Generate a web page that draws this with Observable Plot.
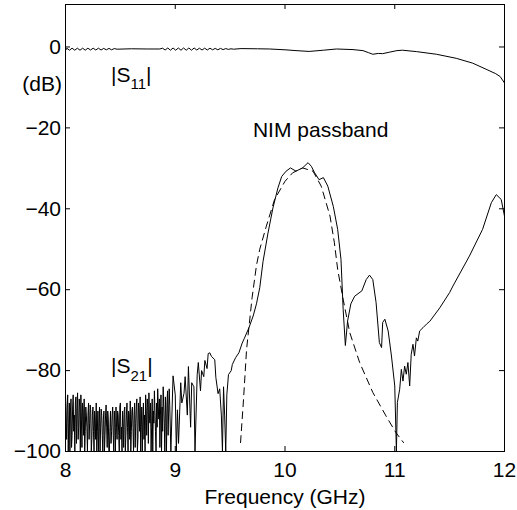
<!DOCTYPE html>
<html><head><meta charset="utf-8">
<script src="https://cdn.jsdelivr.net/npm/d3@7"></script>
<script src="https://cdn.jsdelivr.net/npm/@observablehq/plot@0.6"></script>
<style>body{margin:0;background:#fff;}</style>
</head><body><div id="chart"></div>
<script>
// Tick values
const xTicks = [8, 9, 10, 11, 12];
const yTicks = [-100, -80, -60, -40, -20, 0];
const xInnerTicks = [9, 10, 11];
const yInnerTicks = [-80, -60, -40, -20, 0];

// |S11| measured (GHz, dB)
const s11 = [
  [8.000,-0.9],[8.012,-0.3],[8.036,-0.8],[8.060,-0.3],[8.084,-0.8],[8.108,-0.3],[8.132,-0.8],[8.156,-0.3],
  [8.180,-0.8],[8.204,-0.3],[8.228,-0.75],[8.252,-0.3],[8.276,-0.75],[8.300,-0.3],[8.324,-0.75],[8.348,-0.35],
  [8.372,-0.7],[8.396,-0.35],[8.420,-0.7],[8.444,-0.4],[8.47,-0.55],[8.6,-0.45],[8.75,-0.5],[8.86,-0.5],
  [8.884,-0.3],[8.908,-0.75],[8.932,-0.25],[8.956,-0.8],[8.980,-0.25],[9.004,-0.8],[9.028,-0.25],[9.052,-0.8],
  [9.076,-0.25],[9.100,-0.8],[9.124,-0.25],[9.148,-0.8],[9.172,-0.25],[9.196,-0.75],[9.220,-0.3],[9.244,-0.75],
  [9.268,-0.3],[9.292,-0.75],[9.316,-0.3],[9.340,-0.7],[9.364,-0.35],[9.388,-0.7],[9.412,-0.35],[9.436,-0.65],
  [9.460,-0.4],[9.484,-0.6],[9.508,-0.45],[9.532,-0.55],[9.6,-0.4],[9.75,-0.45],[9.86,-0.5],[10.0,-0.7],
  [10.1,-0.9],[10.22,-1.1],[10.35,-0.8],[10.47,-0.5],[10.62,-0.65],[10.71,-0.9],[10.76,-1.4],[10.8,-1.8],
  [10.85,-1.6],[10.89,-1.65],[10.95,-1.3],[11.02,-0.9],[11.07,-0.8],[11.2,-1.15],[11.38,-1.8],[11.56,-2.8],
  [11.71,-4.0],[11.84,-5.6],[11.92,-6.6],[11.96,-7.3],[12.0,-8.9]
];

// |S21| measured, noise floor region (GHz, dB)
const s21Noise = [
  [8.00,-86],[8.01,-97],[8.02,-86],[8.03,-93],[8.04,-100],[8.05,-87],[8.06,-96],[8.07,-86],[8.08,-91],[8.09,-88],
  [8.10,-98],[8.11,-85.5],[8.12,-94],[8.13,-89],[8.14,-86],[8.15,-99],[8.16,-90],[8.17,-87],[8.18,-95],[8.19,-91],
  [8.20,-100],[8.21,-88],[8.22,-93],[8.23,-90],[8.24,-97],[8.25,-89],[8.26,-100],[8.27,-92],[8.28,-88],[8.29,-95],
  [8.30,-100],[8.31,-89],[8.32,-94],[8.33,-91],[8.34,-100],[8.35,-90],[8.36,-96],[8.37,-88.5],[8.38,-99],[8.39,-92],
  [8.40,-100],[8.41,-90],[8.42,-95],[8.43,-89],[8.44,-100],[8.45,-93],[8.46,-89],[8.47,-97],[8.48,-91],[8.49,-100],
  [8.50,-88],[8.51,-94],[8.52,-90],[8.53,-99],[8.54,-89],[8.55,-96],[8.56,-88],[8.57,-100],[8.58,-91],[8.59,-87.5],
  [8.60,-95],[8.61,-89],[8.62,-100],[8.63,-88],[8.64,-93],[8.65,-87],[8.66,-97],[8.67,-90],[8.68,-86.5],[8.69,-94],
  [8.70,-100],[8.71,-88],[8.72,-91],[8.73,-86],[8.74,-96],[8.75,-89],[8.76,-85.5],[8.77,-93],[8.78,-100],[8.79,-87],
  [8.80,-90],[8.81,-85],[8.82,-95],[8.83,-88],[8.84,-84.5],[8.85,-92],[8.86,-99],[8.87,-86],[8.88,-89],[8.89,-84],
  [8.90,-93],[8.91,-86.5],[8.92,-100],[8.93,-85],[8.94,-90],[8.95,-88.7]
];
// |S21| noise floor, in-between samples (GHz, dB)
const s21NoiseMid = [
  [8.005,-91],[8.015,-89],[8.025,-100],[8.035,-88],[8.045,-90],[8.055,-99],[8.065,-89],[8.075,-95],[8.085,-100],[8.095,-86.5],
  [8.105,-90],[8.115,-97],[8.125,-87],[8.135,-100],[8.145,-92],[8.155,-88],[8.165,-96],[8.175,-100],[8.185,-89],[8.195,-94],
  [8.205,-91],[8.215,-97],[8.225,-88.5],[8.235,-100],[8.245,-91],[8.255,-95],[8.265,-90],[8.275,-97],[8.285,-100],[8.295,-90],
  [8.305,-93],[8.315,-100],[8.325,-89.5],[8.335,-96],[8.345,-92],[8.355,-100],[8.365,-91],[8.375,-94],[8.385,-90],[8.395,-100],
  [8.405,-94],[8.415,-98],[8.425,-91],[8.435,-96],[8.445,-90],[8.455,-100],[8.465,-94],[8.475,-90],[8.485,-96],[8.495,-89],
  [8.505,-97],[8.515,-100],[8.525,-93],[8.535,-90],[8.545,-100],[8.555,-91],[8.565,-94],[8.575,-90],[8.585,-97],[8.595,-100],
  [8.605,-90],[8.615,-94],[8.625,-91],[8.635,-99],[8.645,-89],[8.655,-100],[8.665,-88],[8.675,-95],[8.685,-100],[8.695,-89],
  [8.705,-92],[8.715,-97],[8.725,-100],[8.735,-90],[8.745,-87],[8.755,-98],[8.765,-92],[8.775,-88],[8.785,-94],[8.795,-100],
  [8.805,-93],[8.815,-90],[8.825,-100],[8.835,-94],[8.845,-89],[8.855,-87],[8.865,-91],[8.875,-100],[8.885,-95],[8.895,-89],
  [8.905,-100],[8.915,-91],[8.925,-88],[8.935,-96],[8.945,-84.5]
];

// |S21| measured, remainder (GHz, dB)
const s21Main = [
  [8.96,-100],[8.98,-81.3],[9.0,-86],[9.01,-100],[9.02,-89.7],[9.03,-98],[9.05,-83],[9.06,-88],[9.08,-85.6],[9.09,-81.5],
  [9.11,-91],[9.12,-79],[9.14,-94],[9.15,-83],[9.17,-84],[9.18,-100],[9.20,-81],[9.21,-78],[9.23,-85],[9.24,-80],
  [9.26,-81.5],[9.27,-77.5],[9.29,-79.5],[9.30,-75.8],[9.315,-75.6],[9.33,-76.5],[9.36,-77.3],[9.37,-81.7],[9.39,-85.7],[9.405,-84.5],
  [9.42,-91],[9.43,-100],[9.44,-84],[9.45,-91],[9.46,-100],[9.47,-86],[9.485,-81],[9.51,-80],[9.52,-78.5],[9.55,-76.8],
  [9.58,-75.6],[9.61,-73.2],[9.63,-72],[9.67,-69.5],[9.71,-66.5],[9.74,-63.5],[9.77,-59.5],[9.80,-53],[9.845,-46],[9.89,-39.8],
  [9.936,-34.8],[9.97,-32],[10.01,-30.7],[10.05,-29.9],[10.10,-30.7],[10.16,-29.9],[10.21,-28.6],[10.24,-29.5],[10.27,-31.1],[10.31,-32.8],
  [10.35,-32.3],[10.39,-34.4],[10.44,-39.4],[10.48,-45.1],[10.51,-52.5],[10.53,-64.9],[10.55,-73.8],[10.57,-67.8],[10.60,-63.5],[10.635,-61.6],
  [10.70,-60.3],[10.74,-57.5],[10.77,-56.4],[10.80,-57.5],[10.83,-63.2],[10.86,-73.1],[10.88,-74.3],[10.89,-68.1],[10.91,-67.3],[10.94,-70.2],
  [10.97,-76.4],[11.0,-83.8],[11.015,-100],[11.024,-87.9],[11.045,-84.6],[11.06,-79.7],[11.075,-82.6],[11.09,-78.9],[11.105,-80.9],[11.12,-78],
  [11.136,-83.8],[11.15,-76],[11.166,-73.5],[11.18,-76.4],[11.197,-71.9],[11.21,-72.7],[11.227,-70.2],[11.257,-69.4],[11.29,-68.5],[11.32,-67.8],
  [11.41,-64.5],[11.5,-60.7],[11.53,-59.1],[11.68,-51.7],[11.80,-45.1],[11.88,-38.5],[11.925,-36.5],[11.97,-37.7],[12.0,-41.8]
];

// |S21| simulated (dashed)
const s21Sim = [
  [9.595,-97.8],[9.62,-88],[9.65,-74.7],[9.70,-62],[9.74,-54],[9.77,-50],[9.83,-44.3],[9.905,-37.7],[10.0,-33.2],[10.07,-31.1],
  [10.16,-29.9],[10.255,-30.7],[10.33,-34.4],[10.41,-41.8],[10.45,-48.4],[10.48,-55],[10.53,-62.4],[10.59,-70.6],[10.68,-78],[10.80,-85.4],
  [10.92,-91.2],[11.01,-95.3],[11.08,-97.8]
];

const xLabel = "Frequency (GHz)";
const yLabel = "(dB)";

const s21 = d3.sort(s21Noise.concat(s21NoiseMid), d => d[0]).concat(s21Main);
const W = 517, H = 510, mL = 65, mR = 13, mT = 4, mB = 59;
const frameW = W - mL - mR, frameH = H - mT - mB, tickLen = 5;
const font = "'Liberation Sans', Arial, Helvetica, sans-serif";
const fx = d => d[0], fy = d => d[1];

const chart = Plot.plot({
  width: W, height: H,
  marginLeft: mL, marginRight: mR, marginTop: mT, marginBottom: mB,
  style: {fontFamily: font, fontSize: "21px", background: "#fff", color: "#000"},
  x: {domain: [8, 12]},
  y: {domain: [-100, 10.5]},
  marks: [
    Plot.line(s11, {x: fx, y: fy, stroke: "#000", strokeWidth: 1, clip: true}),
    Plot.line(s21, {x: fx, y: fy, stroke: "#000", strokeWidth: 1, clip: true}),
    Plot.line(s21Sim, {x: fx, y: fy, stroke: "#000", strokeWidth: 1, strokeDasharray: "7,5", clip: true}),
    Plot.tickX(xInnerTicks, {x: d => d, insetTop: frameH - tickLen, stroke: "#000"}),
    Plot.tickX(xInnerTicks, {x: d => d, insetBottom: frameH - tickLen, stroke: "#000"}),
    Plot.tickY(yInnerTicks, {y: d => d, insetRight: frameW - tickLen, stroke: "#000"}),
    Plot.tickY(yInnerTicks, {y: d => d, insetLeft: frameW - tickLen, stroke: "#000"}),
    Plot.frame({stroke: "#000", strokeWidth: 1}),
    Plot.axisX(xTicks, {tickSize: 0, tickPadding: 11, label: null, fontSize: 21, fill: "#000"}),
    Plot.axisY(yTicks, {tickSize: 0, tickPadding: 4.5, label: null, fontSize: 21, fill: "#000"}),
    Plot.text([xLabel], {frameAnchor: "bottom", dy: 52, lineAnchor: "bottom", fontSize: 21, fill: "#000"}),
    Plot.text([yLabel], {x: 8, y: -11, dx: -3.5, textAnchor: "end", lineAnchor: "bottom", fontSize: 21, fill: "#000"}),
    Plot.text(["NIM passband"], {x: 9.708, y: -22.2, textAnchor: "start", lineAnchor: "bottom", fontSize: 21, fill: "#000"}),
    Plot.text(["|S11|"], {x: 8.415, y: -8.65, textAnchor: "start", lineAnchor: "bottom", fontSize: 21, fill: "#000"}),
    Plot.text(["|S21|"], {x: 8.415, y: -80.6, textAnchor: "start", lineAnchor: "bottom", fontSize: 21, fill: "#000"})
  ]
});

// Subscripts for |S11| and |S21|
const NS = "http://www.w3.org/2000/svg";
chart.querySelectorAll("text").forEach(t => {
  const s = t.textContent;
  const m = /^\|S(\d\d)\|$/.exec(s);
  if (!m) return;
  t.textContent = "|S";
  const sub = document.createElementNS(NS, "tspan");
  sub.setAttribute("dy", "7.5");
  sub.setAttribute("font-size", "15");
  sub.textContent = m[1];
  const end = document.createElementNS(NS, "tspan");
  end.setAttribute("dy", "-7.5");
  end.textContent = "|";
  t.appendChild(sub);
  t.appendChild(end);
});

document.getElementById("chart").appendChild(chart);
</script>
</body></html>
